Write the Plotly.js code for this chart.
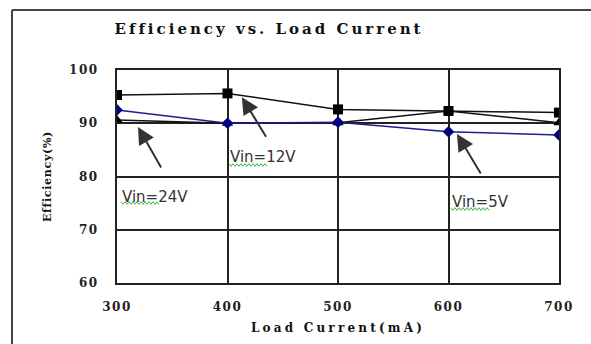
<!DOCTYPE html>
<html>
<head>
<meta charset="utf-8">
<script src="https://cdn.plot.ly/plotly-3.0.1.min.js"></script>
<style>
html,body{margin:0;padding:0;background:#fff;}
#chart{width:591px;height:344px;}
#chart .gtitle{letter-spacing:3px;}
#chart .g-xtitle text{letter-spacing:3.2px;}
#chart .g-ytitle text{letter-spacing:0.7px;}
#chart .xtick text,#chart .ytick text{letter-spacing:1.5px;}
</style>
</head>
<body>
<div id="chart"></div>
<script>
const loadCurrent = [300, 400, 500, 600, 700];
const vin12 = [95.3, 95.6, 92.6, 92.3, 92.0];
const vin5 = [92.5, 90.0, 90.2, 88.4, 87.8];
const vin24 = [90.6, 90.0, 90.1, 92.3, 90.1];
const xTicks = [300, 400, 500, 600, 700];
const yTicks = [60, 70, 80, 90, 100];

const traces = [
  {x: loadCurrent, y: vin24, mode: 'lines+markers', name: 'Vin=24V',
   line: {color: '#111', width: 1.5}, marker: {symbol: 'triangle-up', size: 10, color: '#000'}},
  {x: loadCurrent, y: vin5, mode: 'lines+markers', name: 'Vin=5V',
   line: {color: '#1c1c8c', width: 1.5}, marker: {symbol: 'diamond', size: 9, color: '#000080'}},
  {x: loadCurrent, y: vin12, mode: 'lines+markers', name: 'Vin=12V',
   line: {color: '#111', width: 1.5}, marker: {symbol: 'square', size: 10, color: '#000'}}
];

const arrow = (x, y, ax, ay) => ({x, y, ax, ay, axref: 'x', ayref: 'y', xref: 'x', yref: 'y',
  text: '', showarrow: true, arrowhead: 2, arrowsize: 1.7, arrowwidth: 2, arrowcolor: '#333'});
const label = (x, y, t) => ({x, y, xref: 'x', yref: 'y', text: t, showarrow: false,
  xanchor: 'left', yanchor: 'middle', font: {family: 'DejaVu Sans', size: 15, color: '#333'}});

// decorative spell-check squiggle under "Vin" (pixel position -> paper coords)
const plotL = 117, plotW = 442, plotB = 283, plotH = 213;
function squiggle(px0, px1, py) {
  let d = '';
  let up = true;
  for (let px = px0, i = 0; px <= px1; px += 2, i++) {
    const yy = py + (up ? -1.3 : 1.3);
    up = !up;
    const X = ((px - plotL) / plotW).toFixed(5);
    const Y = ((plotB - yy) / plotH).toFixed(5);
    d += (i === 0 ? 'M' : 'L') + X + ',' + Y + ' ';
  }
  return {type: 'path', xref: 'paper', yref: 'paper', path: d, line: {color: '#3cb043', width: 1}};
}

const layout = {
  width: 591, height: 344,
  margin: {l: 117, r: 32, t: 70, b: 61},
  paper_bgcolor: '#fff', plot_bgcolor: '#fff',
  showlegend: false,
  title: {text: 'Efficiency vs. Load Current', x: 0.344, xref: 'paper', xanchor: 'center',
          y: 0.916, yref: 'container', yanchor: 'middle',
          font: {family: 'DejaVu Serif', size: 15, weight: 'bold', color: '#111'}},
  xaxis: {range: [300, 700], tickvals: xTicks, ticktext: xTicks.map(String),
          showgrid: true, gridcolor: '#222', gridwidth: 2, zeroline: false,
          showline: true, mirror: true, linecolor: '#222', linewidth: 2, ticks: '',
          ticklabelstandoff: 12,
          tickfont: {family: 'DejaVu Serif', size: 12, weight: 'bold', color: '#222'},
          title: {text: 'Load Current(mA)', standoff: 10,
                  font: {family: 'DejaVu Serif', size: 12, weight: 'bold', color: '#111'}}},
  yaxis: {range: [60, 100], tickvals: yTicks, ticktext: yTicks.map(String),
          showgrid: true, gridcolor: '#222', gridwidth: 2, zeroline: false,
          showline: true, mirror: true, linecolor: '#222', linewidth: 2, ticks: '',
          ticklabelstandoff: 14,
          tickfont: {family: 'DejaVu Serif', size: 12, weight: 'bold', color: '#222'},
          title: {text: 'Efficiency(%)', standoff: 20,
                  font: {family: 'DejaVu Serif', size: 11, weight: 'bold', color: '#111'}}},
  shapes: [
    {type: 'line', xref: 'paper', yref: 'paper', x0: -0.2376, x1: -0.2376, y0: 1.2817, y1: -0.35,
     line: {color: '#444', width: 2}},
    {type: 'line', xref: 'paper', yref: 'paper', x0: -0.2376, x1: 1.2, y0: 1.2817, y1: 1.2817,
     line: {color: '#444', width: 2}},
    squiggle(229, 268, 165),
    squiggle(121, 160, 203),
    squiggle(451, 489, 209)
  ],
  annotations: [
    arrow(413, 94.9, 435.7, 87.2),
    arrow(319, 89.3, 340.7, 81.4),
    arrow(607.7, 88.0, 630, 80.3),
    label(400.5, 83.7, 'Vin=12V'),
    label(302.7, 76.1, 'Vin=24V'),
    label(601.4, 75.2, 'Vin=5V')
  ]
};

Plotly.newPlot('chart', traces, layout, {displayModeBar: false, staticPlot: true});
</script>
</body>
</html>
